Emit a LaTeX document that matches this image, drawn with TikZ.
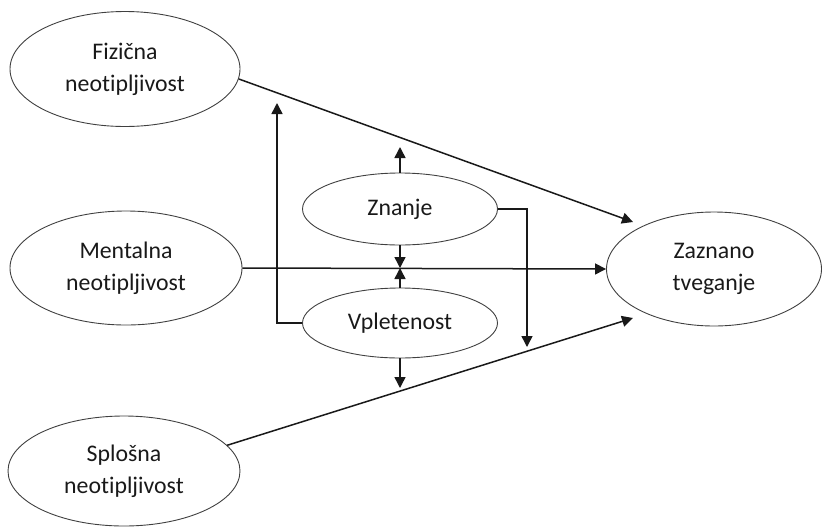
\documentclass[tikz,border=0pt]{standalone}
\usepackage{fontspec}
\setmainfont{Carlito}[Ligatures=NoCommon]
\usetikzlibrary{shapes.geometric,arrows.meta}
\begin{document}
\begin{tikzpicture}[x=1pt,y=-1pt,
  construct/.style={ellipse,draw=black!75,line width=0.9pt,inner sep=0pt,align=center,
    font=\fontsize{23.8}{32}\selectfont,text=black!90},
  link/.style={draw=black!90,line width=1.5pt,-{Triangle[length=11pt,width=11pt]}}]
\useasboundingbox (0,0) rectangle (827,528);

% outer constructs
\node[construct,minimum width=230,minimum height=115] (fiz) at (125,69) {Fizična\\neotipljivost};
\node[construct,minimum width=232,minimum height=114] (ment) at (126,268) {Mentalna\\neotipljivost};
\node[construct,minimum width=232,minimum height=110] (splo) at (124,471) {Splošna\\neotipljivost};
\node[construct,minimum width=215,minimum height=114] (zaz) at (714,269) {Zaznano\\tveganje};

% moderators
\node[construct,minimum width=195,minimum height=72] (zn) at (400,209) {Znanje};
\node[construct,minimum width=195,minimum height=70] (vp) at (400,323) {Vpletenost};

% free arrow ends
\coordinate (zin1) at (633,222);
\coordinate (zin3) at (633,318);
\coordinate (znup) at (400,147);
\coordinate (mid) at (400,268);
\coordinate (vpdown) at (400,388);
\coordinate (zndown) at (527,347);
\coordinate (vpup) at (277,103);

% direct paths
\draw[link] (fiz.-5) -- (zin1);
\draw[link] (ment.east) -- (zaz.west);
\draw[link] (splo.14) -- (zin3);

% moderator arrows
\draw[link] (zn.north) -- (znup);
\draw[link] (zn.south) -- (mid);
\draw[link] (vp.north) -- (mid);
\draw[link] (vp.south) -- (vpdown);
\draw[link] (zn.east) -| (zndown);
\draw[link] (vp.west) -| (vpup);
\end{tikzpicture}
\end{document}
